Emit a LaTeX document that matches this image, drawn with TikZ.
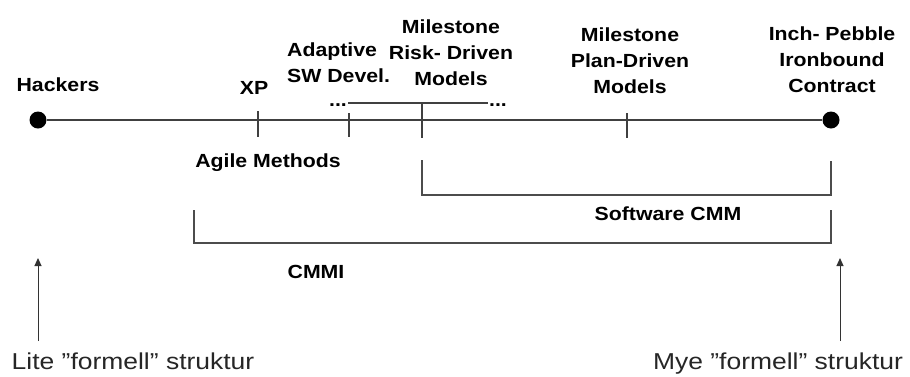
\documentclass[tikz,border=0pt]{standalone}
\usepackage{fontspec}
\usetikzlibrary{arrows.meta}
\newfontfamily\lblfont[FakeStretch=1.12]{Liberation Sans}
\newfontfamily\bigfont[FakeStretch=1.15]{Liberation Sans}
\begin{document}
\begin{tikzpicture}[x=1pt,y=-1pt,
  lbl/.style={inner sep=0pt, anchor=base, align=center,
    font=\lblfont\bfseries\fontsize{19}{26}\selectfont, text=black},
  big/.style={inner sep=0pt, anchor=base,
    font=\bigfont\fontsize{23}{28}\selectfont, text=black!85},
  dotnode/.style={circle, fill=black, draw=none, minimum size=17pt, inner sep=0pt},
  mainline/.style={draw=black!75, line width=1.4pt},
  tick/.style={draw=black!75, line width=1.4pt},
  bracket/.style={draw=black!70, line width=2pt},
  uparrow/.style={draw=black!80, line width=1pt, -{Triangle[length=8pt,width=7pt]}}]
\useasboundingbox (0,0) rectangle (910,376);

% end points and main scale
\node[dotnode] (hack) at (38,120) {};
\node[dotnode] (inch) at (831,120) {};
\draw[mainline] (hack) -- (inch);

% tick marks
\coordinate (xpT) at (258,111);  \coordinate (xpB) at (258,137);
\coordinate (adT) at (349,113);  \coordinate (adB) at (349,137);
\coordinate (msT) at (422,103);  \coordinate (msB) at (422,138);
\coordinate (pdT) at (627,113);  \coordinate (pdB) at (627,138);
\draw[tick] (xpT) -- (xpB);
\draw[tick] (adT) -- (adB);
\draw[tick] (msT) -- (msB);
\draw[tick] (pdT) -- (pdB);

% upper bar with dots
\coordinate (barL) at (348,103);
\coordinate (barR) at (488,103);
\draw[tick] (barL) -- (barR);
\node[lbl] (dotsL) at (338,106) {...};
\node[lbl] (dotsR) at (498,106) {...};

% labels above
\node[lbl] (thack) at (58,91) {Hackers};
\node[lbl] (txp) at (254,94) {XP};
\node[lbl, align=left, anchor=base west] (tasd) at (287,82) {Adaptive\\SW Devel.};
\node[lbl] (tmrd) at (451,85) {Milestone\\Risk- Driven\\Models};
\node[lbl] (tmpd) at (630,93) {Milestone\\Plan-Driven\\Models};
\node[lbl] (tinch) at (832,92) {Inch- Pebble\\Ironbound\\Contract};
\node[lbl] (tagile) at (268,167) {Agile Methods};

% Software CMM bracket
\coordinate (swA) at (422,160);
\coordinate (swB) at (422,195);
\coordinate (swC) at (831,195);
\coordinate (swD) at (831,161);
\draw[bracket] (swA) -- (swB) -- (swC) -- (swD);
\node[lbl] (tsw) at (668,220) {Software CMM};

% CMMI bracket
\coordinate (cmA) at (194,210);
\coordinate (cmB) at (194,243);
\coordinate (cmC) at (831,243);
\coordinate (cmD) at (831,210);
\draw[bracket] (cmA) -- (cmB) -- (cmC) -- (cmD);
\node[lbl] (tcmmi) at (316,278) {CMMI};

% arrows and bottom labels
\coordinate (laB) at (38,341);  \coordinate (laT) at (38,258);
\coordinate (raB) at (840,341); \coordinate (raT) at (840,258);
\draw[uparrow] (laB) -- (laT);
\draw[uparrow] (raB) -- (raT);
\node[big] (tlite) at (133,369) {Lite ”formell” struktur};
\node[big] (tmye) at (778,369) {Mye ”formell” struktur};
\end{tikzpicture}
\end{document}
